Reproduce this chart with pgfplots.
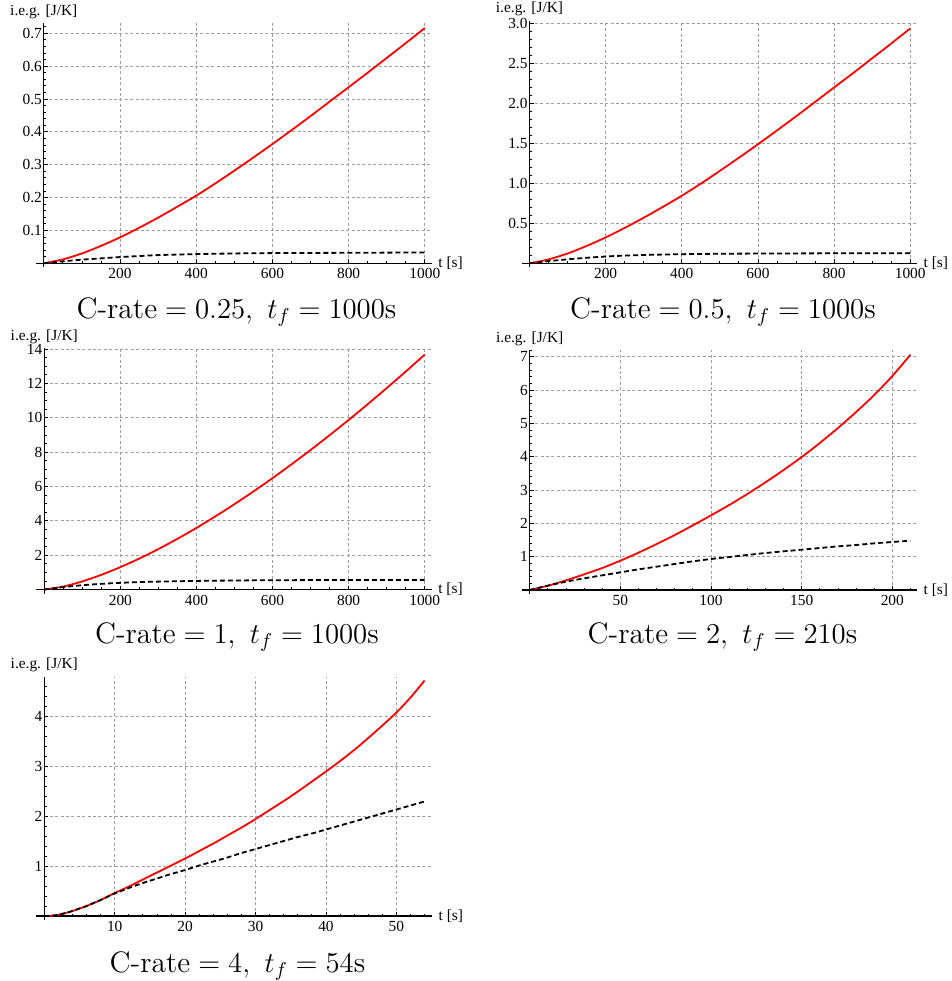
\documentclass[border=0pt]{standalone}
\usepackage{fontspec}
\usepackage{pgfplots}
\pgfplotsset{compat=1.18}
\newfontfamily\tms{Liberation Serif}
\newcommand\tkf{\tms\fontsize{7.7}{9}\selectfont}
\newcommand\capf{\fontsize{14.8}{17}\selectfont}

\pgfplotsset{
  mma/.style={
    axis lines=left,
    anchor=origin,
    clip=false,
    xmin=0, ymin=0,
    tick align=inside,
    major tick length=2pt,
    minor tick length=1.2pt,
    tick style={black, line width=0.4pt},
    x axis line style={-, line width=0.6pt, shorten <=-4pt},
    y axis line style={-, line width=0.6pt, shorten <=-2pt},
    grid=major,
    major grid style={gray!75, line width=0.4pt, dash pattern=on 1.5pt off 1.2pt},
    ticklabel style={font=\tkf},
    xticklabel style={inner sep=1.5pt, yshift=-1pt},
    yticklabel style={inner xsep=0.8pt},
    xlabel={t [s]},
    ylabel={i.e.g. [J/K]},
    every axis x label/.style={at={(axis description cs:1,0)}, anchor=west, font=\tkf, inner xsep=1pt, xshift=2pt},
    every axis y label/.style={at={(axis description cs:0,1)}, anchor=base, font=\tkf, yshift=4pt},
  },
  redc/.style={red, line width=0.9pt, smooth},
  blackc/.style={black, line width=0.9pt, dash pattern=on 2.5pt off 1.5pt, smooth},
}

\begin{document}
\begin{tikzpicture}
\path[use as bounding box] (0,0) rectangle (476pt,-490.5pt);

% C-rate = 0.25
\begin{axis}[mma, at={(21.9pt,-131.65pt)}, x=0.1905pt, y=164.3pt,
  xmax=1019, ymax=0.731,
  xtick={200,400,600,800,1000}, xticklabels={200,400,600,800,1000},
  minor xtick={50,100,...,1000},
  ytick={0.1,0.2,0.3,0.4,0.5,0.6,0.7}, yticklabels={0.1,0.2,0.3,0.4,0.5,0.6,0.7},
  minor ytick={0.02,0.04,...,0.72}]
\addplot[redc] coordinates {(0,0)(50,0.012)(100,0.030)(150,0.053)(200,0.079)(250,0.108)(300,0.139)(350,0.172)(400,0.206)(450,0.243)(500,0.282)(550,0.322)(600,0.363)(650,0.405)(700,0.448)(750,0.492)(800,0.536)(850,0.580)(900,0.625)(950,0.670)(1000,0.716)};
\addplot[blackc] coordinates {(0,0)(25,0.003)(50,0.006)(100,0.011)(150,0.015)(200,0.019)(250,0.022)(300,0.025)(400,0.028)(500,0.030)(600,0.031)(800,0.032)(1000,0.033)};
\end{axis}

% C-rate = 0.5
\begin{axis}[mma, at={(264.75pt,-131.65pt)}, x=0.19035pt, y=40pt,
  xmax=1018.6, ymax=3.03,
  xtick={200,400,600,800,1000}, xticklabels={200,400,600,800,1000},
  minor xtick={50,100,...,1000},
  ytick={0.5,1,1.5,2,2.5,3}, yticklabels={0.5,1.0,1.5,2.0,2.5,3.0},
  minor ytick={0.1,0.2,...,3.0}]
\addplot[redc] coordinates {(0,0)(50,0.049)(100,0.123)(150,0.217)(200,0.324)(250,0.443)(300,0.570)(350,0.705)(400,0.845)(450,0.996)(500,1.156)(550,1.320)(600,1.488)(650,1.661)(700,1.837)(750,2.017)(800,2.198)(850,2.378)(900,2.563)(950,2.747)(1000,2.936)};
\addplot[blackc] coordinates {(0,0)(25,0.014)(50,0.027)(100,0.050)(150,0.069)(200,0.085)(250,0.096)(300,0.104)(400,0.114)(500,0.119)(600,0.122)(800,0.125)(1000,0.127)};
\end{axis}

% C-rate = 1
\begin{axis}[mma, at={(22.15pt,-294.75pt)}, x=0.1902pt, y=8.585pt,
  xmax=1019, ymax=14.05,
  xtick={200,400,600,800,1000}, xticklabels={200,400,600,800,1000},
  minor xtick={50,100,...,1000},
  ytick={2,4,6,8,10,12,14}, yticklabels={2,4,6,8,10,12,14},
  minor ytick={0.5,1,...,14}]
\addplot[redc] coordinates {(0,0)(50,0.173)(100,0.474)(150,0.857)(200,1.305)(250,1.807)(300,2.359)(350,2.954)(400,3.590)(450,4.264)(500,4.973)(550,5.715)(600,6.489)(650,7.293)(700,8.127)(750,8.989)(800,9.876)(850,10.791)(900,11.730)(950,12.693)(1000,13.68)};
\addplot[blackc] coordinates {(0,0)(25,0.07)(50,0.14)(100,0.25)(150,0.33)(200,0.39)(250,0.43)(300,0.46)(400,0.50)(500,0.525)(600,0.54)(800,0.555)(1000,0.56)};
\end{axis}

% C-rate = 2
\begin{axis}[mma, at={(264.85pt,-295pt)}, x=0.9065pt, y=16.665pt,
  xmax=213.8, ymax=7.2,
  xtick={50,100,150,200}, xticklabels={50,100,150,200},
  minor xtick={10,20,...,210},
  ytick={1,2,3,4,5,6,7}, yticklabels={1,2,3,4,5,6,7},
  minor ytick={0.2,0.4,...,7.2}]
\addplot[redc] coordinates {(0,0)(10,0.13)(20,0.29)(30,0.47)(40,0.66)(50,0.88)(60,1.12)(70,1.38)(80,1.65)(90,1.94)(100,2.24)(110,2.55)(120,2.88)(130,3.23)(140,3.60)(150,3.99)(160,4.41)(170,4.86)(180,5.34)(190,5.85)(200,6.42)(210,7.06)};
\addplot[blackc] coordinates {(0,0)(10,0.13)(20,0.25)(30,0.35)(40,0.44)(50,0.53)(60,0.62)(70,0.70)(80,0.78)(90,0.86)(100,0.93)(110,0.99)(120,1.05)(130,1.11)(140,1.16)(150,1.21)(160,1.26)(170,1.31)(180,1.35)(190,1.40)(200,1.44)(210,1.48)};
\end{axis}

% C-rate = 4
\begin{axis}[mma, at={(22.15pt,-458pt)}, x=3.521pt, y=25pt,
  xmax=55.1, ymax=4.79,
  xtick={10,20,30,40,50}, xticklabels={10,20,30,40,50},
  minor xtick={2,4,...,54},
  ytick={1,2,3,4}, yticklabels={1,2,3,4},
  minor ytick={0.2,0.4,...,4.8}]
\addplot[redc] coordinates {(0,0)(1,0.005)(2,0.025)(3,0.06)(4,0.10)(5,0.15)(6,0.20)(7,0.26)(8,0.32)(9,0.39)(10,0.46)(12,0.59)(14,0.73)(16,0.87)(18,1.01)(20,1.15)(22,1.30)(24,1.45)(26,1.61)(28,1.77)(30,1.94)(32,2.12)(34,2.30)(36,2.49)(38,2.69)(40,2.89)(42,3.10)(44,3.32)(46,3.56)(48,3.81)(50,4.07)(52,4.37)(54,4.71)};
\addplot[blackc] coordinates {(0,0)(1,0.005)(2,0.025)(3,0.06)(4,0.10)(5,0.15)(6,0.20)(7,0.26)(8,0.32)(9,0.385)(10,0.45)(12,0.56)(14,0.66)(16,0.75)(18,0.84)(20,0.92)(22,1.01)(24,1.09)(26,1.17)(28,1.26)(30,1.34)(32,1.42)(34,1.50)(36,1.58)(38,1.65)(40,1.73)(42,1.81)(44,1.89)(46,1.97)(48,2.05)(50,2.13)(52,2.21)(54,2.29)};
\end{axis}

% panel captions
\node[anchor=base, font=\capf] at (118.25pt,-159pt) {$\mbox{C-rate} = 0.25,\ t_f = 1000\mbox{s}$};
\node[anchor=base, font=\capf] at (361.5pt,-159pt) {$\mbox{C-rate} = 0.5,\ t_f = 1000\mbox{s}$};
\node[anchor=base, font=\capf] at (118.5pt,-321.5pt) {$\mbox{C-rate} = 1,\ t_f = 1000\mbox{s}$};
\node[anchor=base, font=\capf] at (361.25pt,-321.5pt) {$\mbox{C-rate} = 2,\ t_f = 210\mbox{s}$};
\node[anchor=base, font=\capf] at (118.75pt,-486pt) {$\mbox{C-rate} = 4,\ t_f = 54\mbox{s}$};
\end{tikzpicture}
\end{document}
